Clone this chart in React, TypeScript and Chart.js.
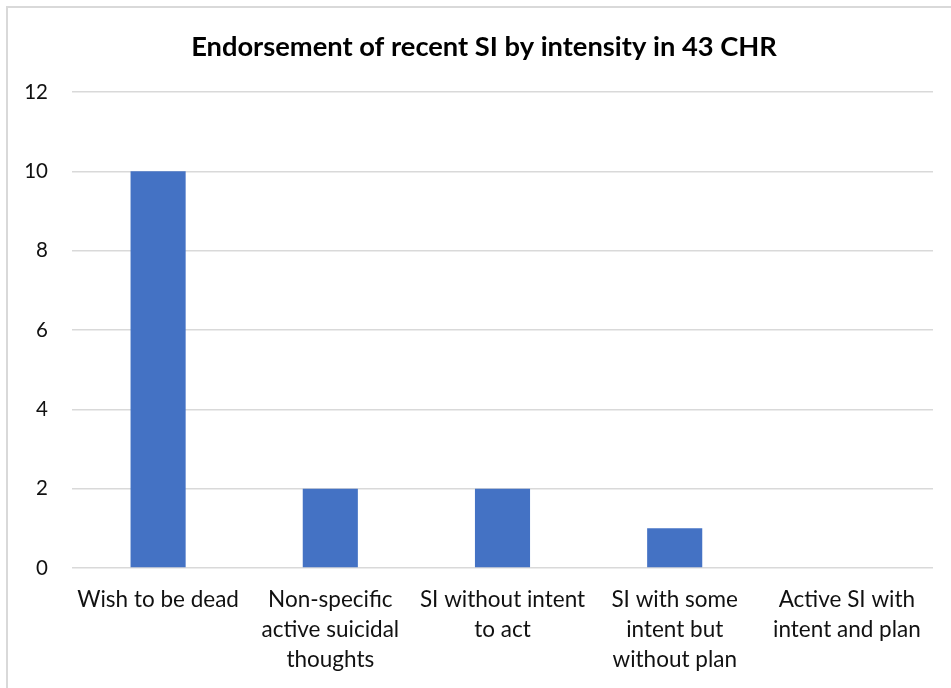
import React, { useEffect, useRef } from "react";
import { Chart, registerables } from "chart.js";

Chart.register(...registerables);

const categories: string[][] = [
  ["Wish to be dead"],
  ["Non-specific", "active suicidal", "thoughts"],
  ["SI without intent", "to act"],
  ["SI with some", "intent but", "without plan"],
  ["Active SI with", "intent and plan"],
];
const counts: number[] = [10, 2, 2, 1, 0];
const yTicks: number[] = [0, 2, 4, 6, 8, 10, 12];
const titleText = "Endorsement of recent SI by intensity in 43 CHR";

const FONT = "Lato, 'Noto Sans', sans-serif";

// Title drawn centred over the whole chart frame rather than the plot area
const frameTitle = {
  id: "frameTitle",
  afterDraw(chart: any) {
    const ctx = chart.ctx as CanvasRenderingContext2D;
    ctx.save();
    ctx.font = `bold 27.3px ${FONT}`;
    ctx.fillStyle = "#000";
    ctx.textAlign = "center";
    ctx.textBaseline = "middle";
    ctx.fillText(titleText, 484, 47);
    ctx.restore();
  },
};

export default function App() {
  const ref = useRef<HTMLCanvasElement | null>(null);

  useEffect(() => {
    document.body.style.margin = "0";
    if (!ref.current) return;
    const chart = new Chart(ref.current, {
      type: "bar",
      data: {
        labels: categories,
        datasets: [
          {
            data: counts,
            backgroundColor: "#4472C4",
            borderWidth: 0,
            categoryPercentage: 1,
            barPercentage: 0.32,
          },
        ],
      },
      plugins: [frameTitle],
      options: {
        animation: false,
        responsive: false,
        devicePixelRatio: 1,
        layout: { padding: { left: 0, right: 18, top: 92, bottom: 0 } },
        plugins: {
          legend: { display: false },
          tooltip: { enabled: false },
          title: { display: false },
        },
        scales: {
          x: {
            grid: { display: false, drawTicks: false },
            border: { display: false },
            ticks: {
              color: "#111",
              font: { family: FONT, size: 22.5, lineHeight: 30 / 22.5 },
              padding: 17,
              maxRotation: 0,
              autoSkip: false,
            },
            afterFit: (s: any) => {
              s.height = 120;
            },
          },
          y: {
            min: 0,
            max: 12,
            afterBuildTicks: (s: any) => {
              s.ticks = yTicks.map((v) => ({ value: v }));
            },
            grid: { color: "#d9d9d9", lineWidth: 1.5, drawTicks: false },
            border: { display: false },
            ticks: {
              color: "#111",
              font: { family: FONT, size: 20.5 },
              padding: 24,
            },
            afterFit: (s: any) => {
              s.width = 72;
            },
          },
        },
      },
    });
    return () => chart.destroy();
  }, []);

  return (
    <div style={{ position: "relative", width: 951, height: 688, overflow: "hidden", background: "#fff" }}>
      <canvas ref={ref} width={951} height={688} style={{ position: "absolute", left: 0, top: 0 }} />
      <div
        style={{
          position: "absolute",
          left: 6,
          top: 6,
          width: 960,
          height: 700,
          border: "2px solid #d9d9d9",
          pointerEvents: "none",
        }}
      />
    </div>
  );
}
